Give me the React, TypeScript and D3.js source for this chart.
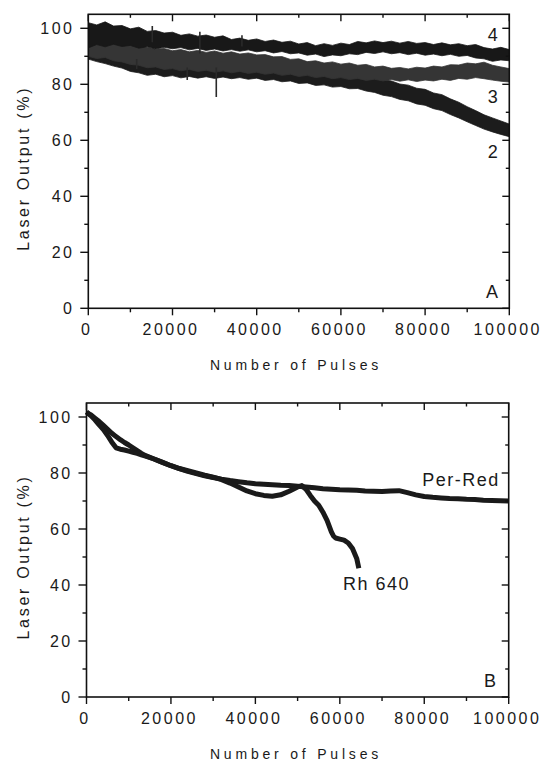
import React from "react";
import * as d3 from "d3";

const W = 544;
const H = 761;
const FONT = "'Liberation Sans', Arial, Helvetica, sans-serif";

const xTicksMajor = [0, 20000, 40000, 60000, 80000, 100000];
const xTicksMinor = [10000, 30000, 50000, 70000, 90000];
const yTicksMajor = [0, 20, 40, 60, 80, 100];
const yTicksMinor = [10, 30, 50, 70, 90];

const xTitle = "Number of Pulses";
const yTitle = "Laser Output (%)";

// Panel A: sampled envelopes (upper/lower edge of each noisy trace), every 2000 pulses
const pulseGrid = d3.range(0, 100001, 2000);

const curve4Hi = [102.0,101.2,102.3,100.8,101.0,99.8,100.4,98.9,99.2,98.3,
  98.6,97.5,98.0,97.2,97.6,96.8,97.3,96.0,96.5,95.7,
  96.2,95.3,95.8,95.0,95.4,94.4,94.9,93.8,94.5,93.9,
  94.7,94.2,95.3,94.8,95.5,94.9,95.4,94.7,95.3,94.6,
  94.9,94.2,94.8,94.1,94.5,93.8,94.2,93.1,92.6,93.2,
  92.4];
const curve4Lo = [93.0,94.2,93.4,94.3,93.5,93.9,92.9,93.4,92.6,93.2,
  92.7,93.1,92.3,92.8,92.1,92.6,91.9,92.4,91.8,92.3,
  91.6,92.0,91.2,91.7,90.9,91.2,90.4,90.8,89.9,90.5,
  90.2,90.9,90.6,91.4,91.0,91.6,90.9,91.3,90.6,91.1,
  90.4,90.8,90.2,90.7,90.0,90.3,89.4,89.1,88.2,88.7,
  88.4];
const curve3Hi = [97.0,96.3,95.6,95.2,94.6,94.1,93.4,93.2,92.5,92.8,
  92.0,92.4,91.6,92.1,91.4,91.9,91.1,91.6,90.8,91.2,
  90.5,90.6,89.8,89.9,88.9,89.1,88.1,88.4,87.6,88.0,
  87.2,87.6,86.8,87.1,86.2,86.5,85.7,86.0,85.5,86.1,
  85.8,86.5,86.2,87.0,86.9,87.6,87.3,87.9,86.8,86.2,
  85.6];
const curve3Lo = [90.0,89.2,89.6,88.4,88.0,87.1,86.8,85.9,86.2,85.3,
  85.6,84.8,85.3,84.6,85.0,84.3,84.8,84.1,84.6,83.9,
  84.3,83.6,84.0,83.2,83.6,82.8,83.2,82.4,82.8,82.0,
  82.4,81.7,82.1,81.4,81.8,81.2,81.7,81.1,81.6,81.0,
  81.5,81.2,81.8,81.4,82.1,81.8,82.4,82.0,81.5,81.1,
  80.8];
const curve2Hi = [96.0,95.1,94.6,93.3,92.5,91.2,90.6,89.5,89.8,88.7,
  89.0,88.2,88.6,87.9,88.3,87.7,88.1,87.4,87.8,87.0,
  87.4,86.6,86.9,86.1,86.4,85.7,85.9,85.0,85.3,84.5,
  84.7,83.9,84.0,83.0,82.6,81.6,81.2,80.1,79.7,78.6,
  78.2,76.9,76.3,74.8,73.6,72.0,70.6,69.1,68.0,66.9,
  65.8];
const curve2Lo = [89.0,88.1,87.4,86.5,85.8,84.6,84.1,83.2,83.6,82.7,
  83.1,82.3,82.8,82.2,82.7,82.1,82.6,82.0,82.4,81.8,
  82.2,81.4,81.7,80.9,81.2,80.3,80.5,79.6,79.8,79.0,
  79.2,78.4,78.5,77.6,77.1,76.1,75.6,74.6,74.1,73.0,
  72.5,71.3,70.6,69.2,68.0,66.6,65.3,64.0,63.0,62.1,
  61.3];

const spikePulses = [30400, 15200, 23500, 26500, 11500, 36500];
const spikeLo = [75.5, 95.0, 81.5, 91.0, 85.5, 93.5];
const spikeHi = [86.0, 100.8, 86.0, 98.8, 89.0, 97.5];

// Panel B
const perRedPulses = [0,1000,2000,3000,4000,5000,6000,7000,8000,9000,10000,11000,12000,13000,14000,
  16000,18000,20000,22000,24000,26000,28000,30000,32000,34000,36000,38000,40000,42000,44000,46000,48000,50000,
  52000,54000,56000,58000,60000,62000,64000,66000,68000,70000,72000,74000,76000,78000,80000,82000,84000,86000,
  88000,90000,92000,94000,96000,98000,100000];
const perRedValues = [101.5,100.8,99.6,98.4,97.0,95.6,94.2,93.0,91.9,90.9,90.0,89.0,88.0,87.0,86.2,
  85.0,83.8,82.6,81.6,80.6,79.8,79.0,78.4,77.8,77.3,76.9,76.5,76.2,76.0,75.8,75.6,75.5,75.3,
  75.0,74.7,74.4,74.2,74.0,73.9,73.8,73.6,73.5,73.4,73.6,73.7,73.0,72.2,71.6,71.3,71.1,70.9,
  70.8,70.6,70.5,70.3,70.2,70.1,70.0];

const rhPulses = [0,1000,2000,3000,4000,5000,6000,7000,8000,9000,10000,11000,12000,13000,14000,
  16000,18000,20000,22000,24000,26000,28000,30000,32000,34000,36000,38000,40000,42000,44000,46000,48000,50000,
  51000,52000,53000,54000,55000,56000,57000,58000,58500,59000,60000,61000,62000,63000,64000,64500];
const rhValues = [101.8,100.5,99.0,97.2,95.5,93.4,91.0,89.0,88.5,88.2,87.8,87.4,87.0,86.5,86.0,
  85.0,83.8,82.6,81.6,80.8,80.0,79.2,78.5,77.6,76.4,75.0,73.6,72.6,72.0,71.7,72.2,73.5,75.0,
  75.5,74.2,72.0,70.0,68.5,66.0,63.0,59.0,57.5,56.8,56.4,56.0,55.0,53.0,49.5,46.0];

type Scales = { x: d3.ScaleLinear<number, number>; y: d3.ScaleLinear<number, number> };

function Axes({ x, y }: Scales) {
  const [xl, xr] = x.range();
  const [yb, yt] = y.range();
  const c = "#111";
  const tickFs = 16;
  const ls = 2.5;
  return (
    <g>
      <rect x={xl} y={yt} width={xr - xl} height={yb - yt} fill="none" stroke={c} strokeWidth={1.6} />
      {xTicksMajor.map((v) => (
        <g key={"xM" + v}>
          <line x1={x(v)} x2={x(v)} y1={yb} y2={yb + 7} stroke={c} strokeWidth={1.4} />
          <line x1={x(v)} x2={x(v)} y1={yt} y2={yt + 7} stroke={c} strokeWidth={1.4} />
          <text x={x(v) - 1.5} y={yb + 26.7} textAnchor="middle" fontSize={tickFs} letterSpacing={ls}
            fontFamily={FONT} fill="#1a1a1a">{v}</text>
        </g>
      ))}
      {xTicksMinor.map((v) => (
        <g key={"xm" + v}>
          <line x1={x(v)} x2={x(v)} y1={yb} y2={yb + 4} stroke={c} strokeWidth={1.4} />
          <line x1={x(v)} x2={x(v)} y1={yt} y2={yt + 3.5} stroke={c} strokeWidth={1.4} />
        </g>
      ))}
      {yTicksMajor.map((v) => (
        <g key={"yM" + v}>
          <line x1={xl} x2={xl - 8} y1={y(v)} y2={y(v)} stroke={c} strokeWidth={1.4} />
          <line x1={xr} x2={xr - 7} y1={y(v)} y2={y(v)} stroke={c} strokeWidth={1.4} />
          <text x={xl - 13.8} y={y(v) + 5.7} textAnchor="end" fontSize={tickFs} letterSpacing={ls}
            fontFamily={FONT} fill="#1a1a1a">{v}</text>
        </g>
      ))}
      {yTicksMinor.map((v) => (
        <g key={"ym" + v}>
          <line x1={xl} x2={xl - 4} y1={y(v)} y2={y(v)} stroke={c} strokeWidth={1.4} />
          <line x1={xr} x2={xr - 3.5} y1={y(v)} y2={y(v)} stroke={c} strokeWidth={1.4} />
        </g>
      ))}
      <text transform={`translate(29,${(yt + yb) / 2 + 7}) rotate(-90)`} textAnchor="middle" fontSize={16}
        letterSpacing={2.7} fontFamily={FONT} fill="#1a1a1a">{yTitle}</text>
      <text x={296} y={yb + 62} textAnchor="middle" fontSize={14} letterSpacing={3.8}
        fontFamily={FONT} fill="#1a1a1a">{xTitle}</text>
    </g>
  );
}

function PanelA() {
  const x = d3.scaleLinear().domain([0, 100000]).range([88.3, 509.3]);
  const y = d3.scaleLinear().domain([0, 105]).range([308.3, 14.3]);
  const mk = (hi: number[], lo: number[]) =>
    pulseGrid.map((p, i) => ({ p, hi: hi[i], lo: lo[i] }));
  const area = d3.area<{ p: number; hi: number; lo: number }>()
    .x((d) => x(d.p)).y0((d) => y(d.lo)).y1((d) => y(d.hi));
  const bands = [
    { d: mk(curve2Hi, curve2Lo), c: "#1c1c1c" },
    { d: mk(curve3Hi, curve3Lo), c: "#353535" },
    { d: mk(curve4Hi, curve4Lo), c: "#181818" },
  ];
  const lab = (t: string, p: number, v: number) => (
    <text x={x(p)} y={y(v) + 6.4} textAnchor="middle" fontSize={18} fontFamily={FONT} fill="#1a1a1a">{t}</text>
  );
  return (
    <g>
      <defs>
        <clipPath id="clipA">
          <rect x={88.3} y={14.3} width={421} height={294} />
        </clipPath>
      </defs>
      <g clipPath="url(#clipA)">
        {bands.map((b, i) => (
          <path key={i} d={area(b.d) || ""} fill={b.c} stroke={b.c} strokeWidth={0.8} strokeLinejoin="round" />
        ))}
        {spikePulses.map((p, i) => (
          <line key={i} x1={x(p)} x2={x(p)} y1={y(spikeLo[i])} y2={y(spikeHi[i])} stroke="#2a2a2a" strokeWidth={1.6} />
        ))}
      </g>
      <Axes x={x} y={y} />
      {lab("4", 96100, 97.8)}
      {lab("3", 96100, 75.6)}
      {lab("2", 96100, 55.9)}
      {lab("A", 95900, 6)}
    </g>
  );
}

function PanelB() {
  const x = d3.scaleLinear().domain([0, 100000]).range([86.5, 508.7]);
  const y = d3.scaleLinear().domain([0, 105]).range([697, 403]);
  const line = d3.line<[number, number]>().x((d) => x(d[0])).y((d) => y(d[1]));
  const perRed = perRedPulses.map((p, i) => [p, perRedValues[i]] as [number, number]);
  const rh = rhPulses.map((p, i) => [p, rhValues[i]] as [number, number]);
  return (
    <g>
      <path d={line(perRed) || ""} fill="none" stroke="#1a1a1a" strokeWidth={5} strokeLinejoin="round" />
      <path d={line(rh) || ""} fill="none" stroke="#1a1a1a" strokeWidth={5} strokeLinejoin="round" />
      <Axes x={x} y={y} />
      <text x={x(97900)} y={y(77.5) + 6.4} textAnchor="end" fontSize={18} letterSpacing={1.5}
        fontFamily={FONT} fill="#1a1a1a">Per-Red</text>
      <text x={x(60750)} y={y(40.4) + 6.4} textAnchor="start" fontSize={18} letterSpacing={1.5}
        fontFamily={FONT} fill="#1a1a1a">Rh 640</text>
      <text x={x(95600)} y={y(5.7) + 6.4} textAnchor="middle" fontSize={18}
        fontFamily={FONT} fill="#1a1a1a">B</text>
    </g>
  );
}

export default function App() {
  return (
    <svg width={W} height={H} viewBox={`0 0 ${W} ${H}`}
      style={{ position: "absolute", left: 0, top: 0, display: "block", background: "#fff" }}>
      <rect width={W} height={H} fill="#fff" />
      <PanelA />
      <PanelB />
    </svg>
  );
}
